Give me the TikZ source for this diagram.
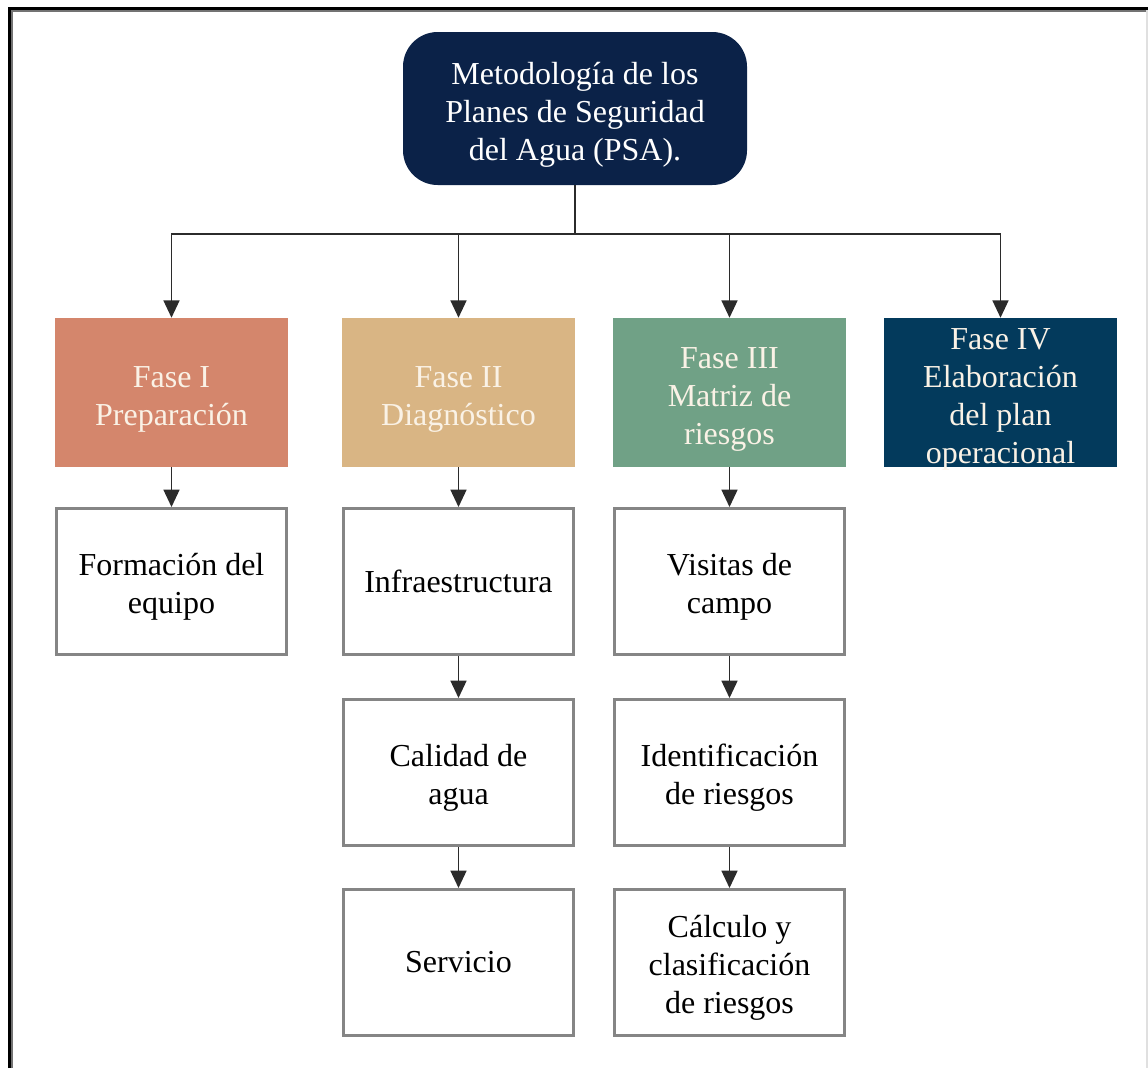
\documentclass[tikz,border=0pt]{standalone}
\usepackage{fontspec}
\setmainfont{Liberation Serif}[Ligatures=TeX]
\usetikzlibrary{positioning,arrows.meta}
\definecolor{psa_navy}{HTML}{0B2248}
\definecolor{fase_one}{HTML}{D4866C}
\definecolor{fase_two}{HTML}{D9B584}
\definecolor{fase_three}{HTML}{70A186}
\definecolor{fase_four}{HTML}{033A5C}
\definecolor{cream}{HTML}{FAF2E6}
\definecolor{BoxGray}{HTML}{858585}
\definecolor{LineGray}{HTML}{2B2B2B}
\newcommand{\psafont}{\fontsize{24}{28.5}\selectfont}
% first-line strut, pushes multi-line texts slightly down
\newcommand{\topgap}[1]{\rule{0pt}{#1}}
\tikzset{
  root/.style={rounded corners=26pt, fill=psa_navy, text=white, minimum width=258pt, minimum height=114.75pt, inner sep=0pt, align=center, font=\psafont},
  phase/.style={fill=#1, text=cream, minimum width=174.75pt, minimum height=111.75pt, inner sep=0pt, align=center, font=\psafont},
  task/.style={draw=BoxGray, line width=2.25pt, fill=white, minimum width=172.5pt, minimum height=109.5pt, inner sep=0pt, align=center, font=\psafont},
  link/.style={draw=LineGray, line width=1.1pt},
  arrow/.style={link, -{Triangle[width=12pt, length=13pt]}},
}
\newcommand{\rowA}{392.5}
\newcommand{\rowB}{581.5}
\newcommand{\rowC}{772.5}
\newcommand{\rowD}{962.5}

\begin{document}
\begin{tikzpicture}[x=0.75pt, y=-0.75pt]
  \useasboundingbox (0,0) rectangle (1148,1068);

  % --- frame ---------------------------------------------------------------
  \draw[black!12, line width=1.5pt] (1147,10) -- (1147,1068);
  \draw[black!55, line width=0.9pt] (12,1068) -- (12,11) -- (1146,11);
  \draw[black, line width=2.4pt] (9.5,1068) -- (9.5,8.5) -- (1148,8.5);

  % --- root ----------------------------------------------------------------
  \node[root] (psa) at (575,108.5) {\topgap{26pt}Metodología de los\\Planes de Seguridad\\del Agua (PSA).};
  \coordinate (bus) at (575,234);

  % --- phases --------------------------------------------------------------
  \foreach \n/\x/\col/\txt in {1/171.5/fase_one/{Fase I\\Preparación},
                                2/458.5/fase_two/{Fase II\\Diagnóstico},
                                3/729.5/fase_three/{Fase III\\Matriz de\\riesgos}} {
    \node[phase=\col] (fase-\n) at (\x,\rowA) {\topgap{26.5pt}\txt};
  }
  % four lines: the text nearly fills the box
  \node[phase=fase_four, text depth=0pt] (fase-4) at (1000.5,\rowA)
    {\topgap{21pt}Fase IV\\Elaboración\\del plan\\operacional};

  % --- tasks ---------------------------------------------------------------
  \node[task] (team)    at (171.5,\rowB) {\topgap{25pt}Formación del\\equipo};
  \node[task] (infra)   at (458.5,\rowB) {Infraestructura};
  \node[task] (quality) at (458.5,\rowC) {\topgap{24pt}Calidad de\\agua};
  \node[task] (service) at (458.5,\rowD) {Servicio};
  \node[task] (visits)  at (729.5,\rowB) {\topgap{24pt}Visitas de\\campo};
  \node[task] (ident)   at (729.5,\rowC) {\topgap{25pt}Identificación\\de riesgos};
  \node[task] (calc)    at (729.5,\rowD) {\topgap{25pt}Cálculo y\\clasificación\\de riesgos};

  % --- connectors ----------------------------------------------------------
  \draw[link] (psa) -- (bus);
  \foreach \n in {1,...,4} {\draw[arrow] (bus) -| (fase-\n.north);}

  \draw[arrow] (fase-1) -- (team);
  \draw[arrow] (fase-2) -- (infra);
  \draw[arrow] (fase-3) -- (visits);
  \foreach \a/\b in {infra/quality, quality/service, visits/ident, ident/calc} {
    \draw[arrow] (\a) -- (\b);
  }

\end{tikzpicture}
\end{document}
